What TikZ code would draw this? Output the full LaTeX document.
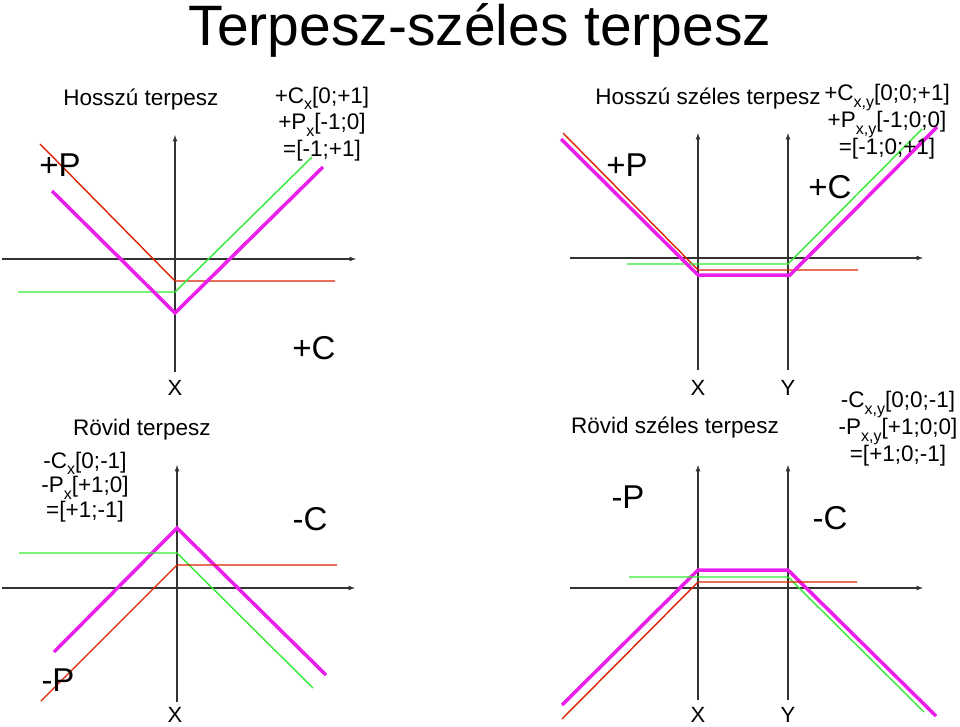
\documentclass[tikz,border=0pt]{standalone}
\usepackage{fontspec}
\setmainfont{Liberation Sans}
\definecolor{cRed}{RGB}{220,34,0}
\definecolor{cGreen}{RGB}{50,235,50}
\definecolor{cMag}{RGB}{235,30,235}
\newcommand{\sbx}[1]{\raisebox{-0.55ex}{\fontsize{16}{16}\selectfont #1}}
\tikzset{every picture/.style={line width=0.75pt},
  axis/.style={draw=black!80,line width=1.2pt,-latex},
  redline/.style={draw=cRed,line width=1.4pt},
  greenline/.style={draw=cGreen,line width=1.4pt},
  magline/.style={draw=cMag,line width=3.5pt},
  lbl/.style={inner sep=0.75pt,font=\fontsize{22.5}{26}\selectfont,align=center},
  big/.style={inner sep=0.75pt,font=\fontsize{33}{36}\selectfont},
  ax/.style={inner sep=0.75pt,font=\fontsize{22}{24}\selectfont}}

\begin{document}
\begin{tikzpicture}[x=1pt,y=1pt,yscale=-1,xscale=1]
\useasboundingbox (0,0) rectangle (960,727);

% Title
\node (title) at (480,30) [inner sep=0pt,font=\fontsize{57}{60}\selectfont] {Terpesz-széles terpesz};

%Hosszú terpesz
\draw [axis] (175,372) -- (175,135);
\draw [axis] (2,259) -- (356,259);
\draw [redline] (40,144) -- (175,281) -- (335,281);
\draw [greenline] (18,292) -- (175,292) -- (312,157);
\draw [magline] (52,191) -- (175,313) -- (323,167);
\node (hT) at (141,100) [lbl] {Hosszú terpesz};
\node (hF) at (322,124) [lbl,font=\fontsize{22.5}{26.5}\selectfont] {+C\sbx{x}[0;+1]\\+P\sbx{x}[-1;0]\\=[-1;+1]};
\node (hP) at (60,165) [big] {+P};
\node (hC) at (314,348) [big] {+C};
\node (hX) at (175,388) [ax] {X};

%Hosszú széles terpesz
\draw [axis] (698,370) -- (698,133);
\draw [axis] (788,370) -- (788,133);
\draw [axis] (570,258) -- (923,258);
\draw [redline] (563,133) -- (698,270) -- (858,270);
\draw [greenline] (627,264) -- (788,264) -- (922,129);
\draw [magline] (561,139) -- (698,275) -- (790,275) -- (937,127);
\node (hsT) at (708,99) [lbl] {Hosszú széles terpesz};
\node (hsF) at (887,122) [lbl,font=\fontsize{22.5}{25.5}\selectfont] {+C\sbx{x,y}[0;0;+1]\\+P\sbx{x,y}[-1;0;0]\\=[-1;0;+1]};
\node (hsP) at (627,165) [big] {+P};
\node (hsC) at (830,187) [big] {+C};
\node (hsX) at (698,388) [ax] {X};
\node (hsY) at (788,388) [ax] {Y};

%Rövid terpesz
\draw [axis] (177,702) -- (177,465);
\draw [axis] (2,588) -- (355,588);
\draw [magline] (54,652) -- (177,528) -- (326,675);
\draw [greenline] (19,553) -- (177,553) -- (313,688);
\draw [redline] (41,701) -- (177,565) -- (337,565);
\node (rT) at (142,430) [lbl] {Rövid terpesz};
\node (rF) at (85,487) [lbl,font=\fontsize{22.5}{24.5}\selectfont] {-C\sbx{x}[0;-1]\\-P\sbx{x}[+1;0]\\=[+1;-1]};
\node (rC) at (310,519) [big] {-C};
\node (rP) at (58,680) [big] {-P};
\node (rX) at (175,715) [ax] {X};

%Rövid széles terpesz
\draw [axis] (698,700) -- (698,465);
\draw [axis] (788,700) -- (788,465);
\draw [axis] (570,588) -- (923,588);
\draw [magline] (562,705) -- (698,570) -- (788,570) -- (936,716);
\draw [greenline] (629,577) -- (788,577) -- (924,712);
\draw [redline] (562,719) -- (698,582) -- (857,582);
\node (rsT) at (675,428) [lbl] {Rövid széles terpesz};
\node (rsF) at (898,429) [lbl,font=\fontsize{22.5}{25.5}\selectfont] {-C\sbx{x,y}[0;0;-1]\\-P\sbx{x,y}[+1;0;0]\\=[+1;0;-1]};
\node (rsP) at (628,497) [big] {-P};
\node (rsC) at (830,518) [big] {-C};
\node (rsX) at (698,715) [ax] {X};
\node (rsY) at (788,715) [ax] {Y};

\end{tikzpicture}
\end{document}
